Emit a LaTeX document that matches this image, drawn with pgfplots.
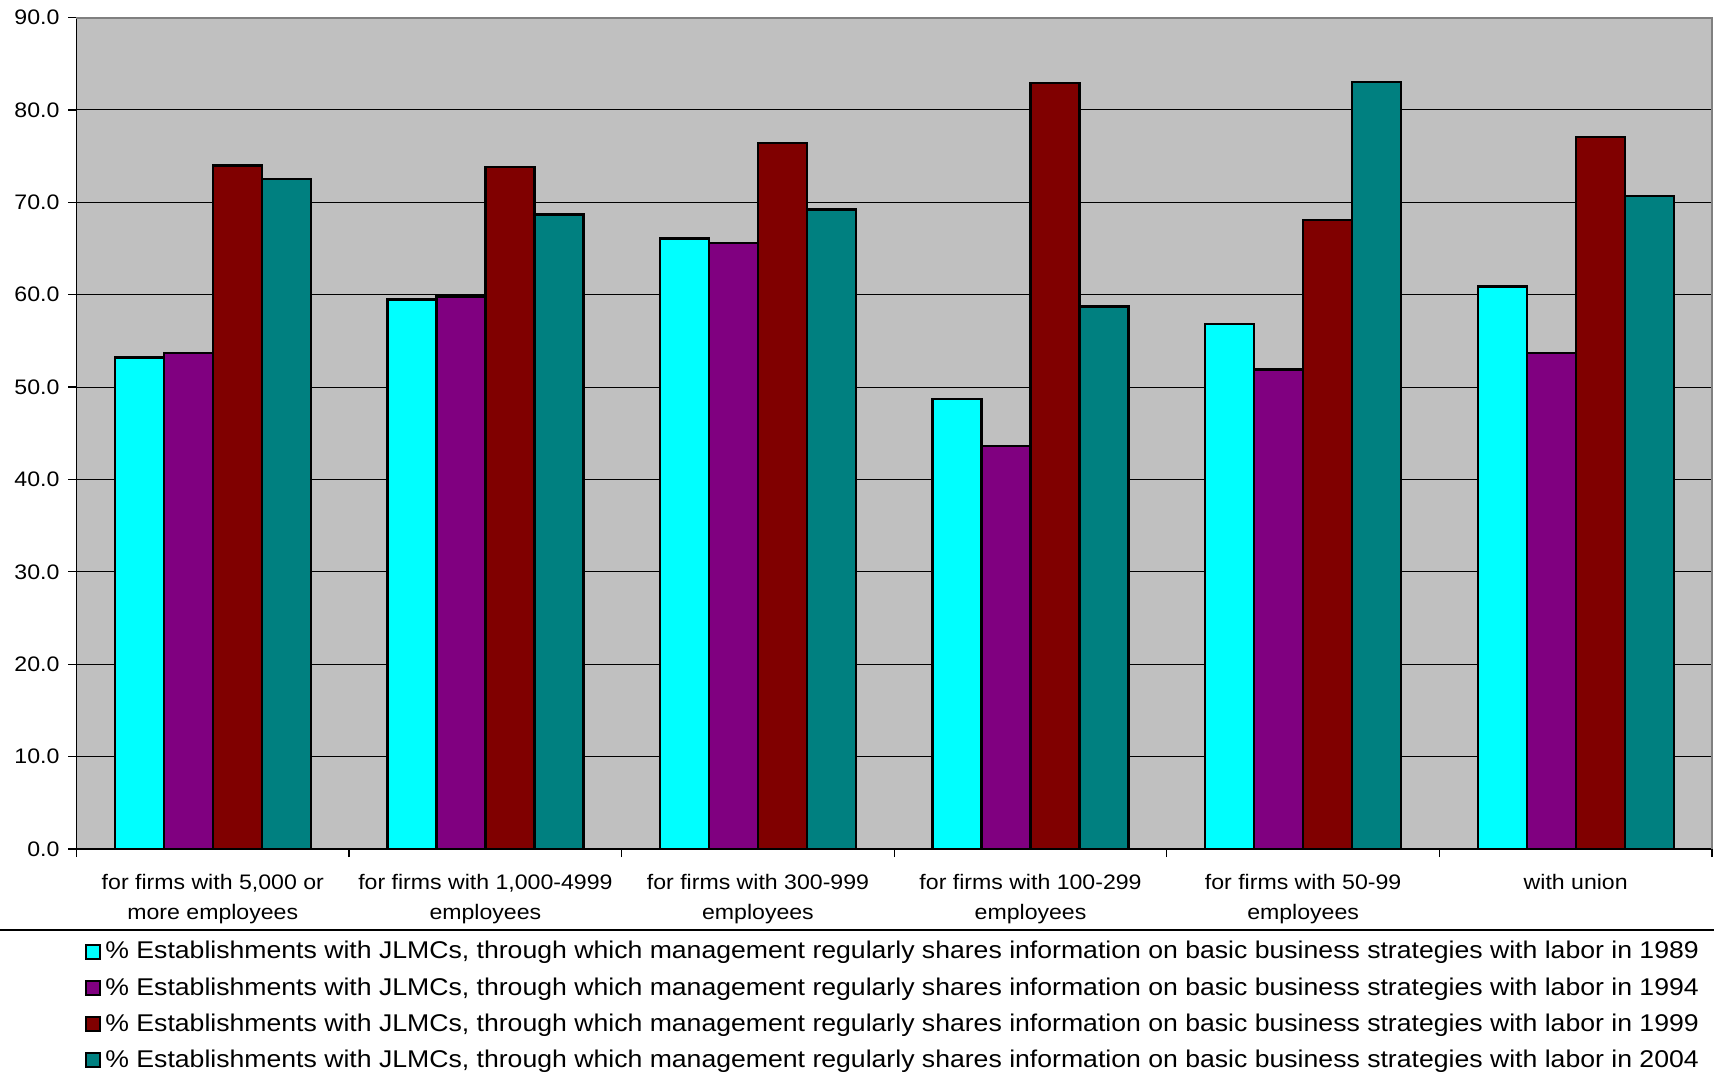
\documentclass[border=0pt]{standalone}
\usepackage{pgfplots}
\pgfplotsset{compat=1.18}
\usepackage{fontspec}
\setmainfont[FakeStretch=1.1]{Liberation Sans}

\definecolor{barcyan}{HTML}{00FFFF}
\definecolor{barpurple}{HTML}{800080}
\definecolor{barmaroon}{HTML}{800000}
\definecolor{barteal}{HTML}{008080}
\definecolor{plotbg}{HTML}{C0C0C0}

\begin{document}
\begin{tikzpicture}
\useasboundingbox (-38.25pt,-112pt) rectangle (818.75pt,424.5pt);
\begin{axis}[
  scale only axis,
  width=817.75pt, height=415.75pt,
  ybar=0pt, bar width=24.5pt,
  xmin=-0.5, xmax=5.5,
  ymin=0, ymax=90,
  ytick={0,10,...,90},
  ymajorgrids,
  grid style={black, line width=0.5pt},
  axis background/.style={fill=plotbg},
  axis line style={draw=none},
  xtick={0,1,2,3,4,5},
  major x tick style={draw=none},
  minor xtick={-0.5,0.5,1.5,2.5,3.5,4.5,5.5},
  minor x tick style={black, line width=0.6pt},
  minor tick length=4pt,
  major tick length=4pt,
  tick align=outside,
  ytick style={black, line width=0.6pt},
  xtick pos=bottom, ytick pos=left,
  /pgf/number format/assume math mode=true,
  yticklabel={\pgfmathprintnumber[fixed,fixed zerofill,precision=1]{\tick}},
  yticklabel style={font=\fontsize{10.5}{12}\selectfont, xshift=-1pt},
  xticklabels={{for firms with 5,000 or\\more employees},
               {for firms with 1,000-4999\\employees},
               {for firms with 300-999\\employees},
               {for firms with 100-299\\employees},
               {for firms with 50-99\\employees},
               {with union}},
  xticklabel style={font=\fontsize{10.5}{15.3}\selectfont, align=center, yshift=-5pt},
  legend style={at={(0,0)}, anchor=north west, xshift=4.25pt, yshift=-44pt,
    draw=none, fill=none, inner sep=0pt, row sep=3.8pt,
    font=\fontsize{12.1}{13.5}\selectfont,
    /tikz/every even column/.append style={column sep=2.5pt}},
  legend cell align=left,
  legend image code/.code={\draw[#1, draw=black, line width=1pt] (0pt,-3.5pt) rectangle (7pt,3.5pt);},
  every axis plot/.append style={draw=black, line width=1.2pt},
  clip=false,
]
\addplot[fill=barcyan] coordinates {(0,53.2) (1,59.5) (2,66.1) (3,48.7) (4,56.8) (5,60.9)};
\addplot[fill=barpurple] coordinates {(0,53.7) (1,59.8) (2,65.6) (3,43.6) (4,51.9) (5,53.7)};
\addplot[fill=barmaroon] coordinates {(0,74.0) (1,73.8) (2,76.4) (3,82.9) (4,68.1) (5,77.1)};
\addplot[fill=barteal] coordinates {(0,72.5) (1,68.7) (2,69.2) (3,58.7) (4,83.0) (5,70.7)};
\legend{{\% Establishments with JLMCs, through which management regularly shares information on basic business strategies with labor in 1989},
        {\% Establishments with JLMCs, through which management regularly shares information on basic business strategies with labor in 1994},
        {\% Establishments with JLMCs, through which management regularly shares information on basic business strategies with labor in 1999},
        {\% Establishments with JLMCs, through which management regularly shares information on basic business strategies with labor in 2004}}
% frame of the plot area: dark on the left and bottom, grey on top and right
\draw[black, line width=0.8pt] (rel axis cs:0,1) -- (rel axis cs:0,0) -- (rel axis cs:1,0);
\draw[gray, line width=1pt] (rel axis cs:0,1) -- (rel axis cs:1,1) -- (rel axis cs:1,0);
\end{axis}
\draw[black, line width=0.6pt] (-38.25pt,-40.5pt) -- (818.75pt,-40.5pt);
\end{tikzpicture}
\end{document}
